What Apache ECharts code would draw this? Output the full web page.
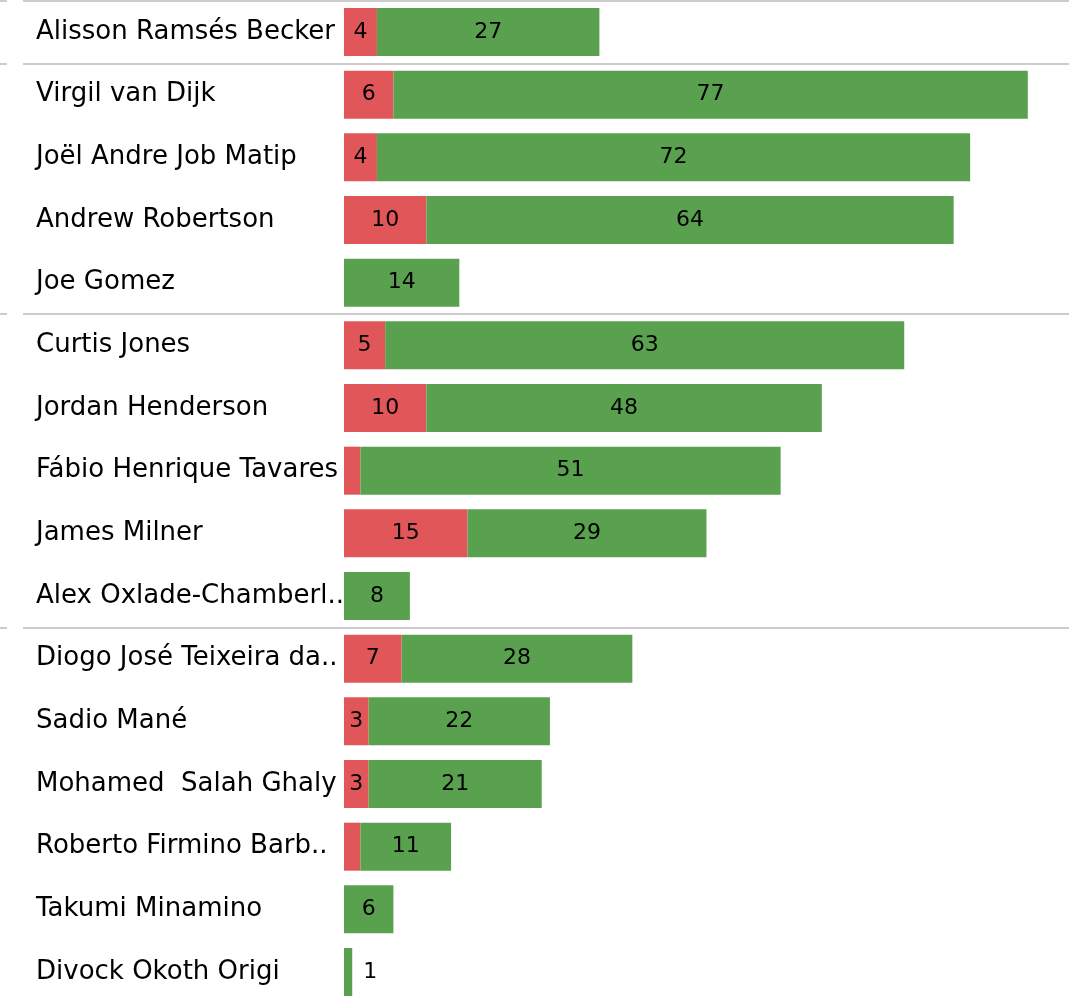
<!DOCTYPE html>
<html>
<head>
<meta charset="utf-8">
<script src="https://cdn.jsdelivr.net/npm/echarts@6/dist/echarts.min.js"></script>
<style>
  html, body { margin: 0; padding: 0; background: #fff; }
  #chart { width: 1077px; height: 997px; }
</style>
</head>
<body>
<div id="chart"></div>
<script>
const players = [
  'Alisson Ramsés Becker',
  'Virgil van Dijk', 'Joël Andre Job Matip', 'Andrew Robertson', 'Joe Gomez',
  'Curtis Jones', 'Jordan Henderson', 'Fábio Henrique Tavares', 'James Milner', 'Alex Oxlade-Chamberl..',
  'Diogo José Teixeira da..', 'Sadio Mané', 'Mohamed  Salah Ghaly', 'Roberto Firmino Barb..', 'Takumi Minamino', 'Divock Okoth Origi'
]
const redValues = [4, 6, 4, 10, 0, 5, 10, 2, 15, 0, 7, 3, 3, 2, 0, 0]
const greenValues = [27, 77, 72, 64, 14, 63, 48, 51, 29, 8, 28, 22, 21, 11, 6, 1]
// row index above which a group divider is drawn
const groupStarts = [0, 1, 5, 10]

const xMin = -41.75, xMax = 88
const pxPerUnit = 8.24

const chart = echarts.init(document.getElementById('chart'))

const barFont = { fontFamily: 'DejaVu Sans', fontSize: 22, color: '#000' }

const dividers = []
groupStarts.forEach(b => {
  dividers.push([{ coord: [xMin, b] }, { coord: [xMin + 7 / pxPerUnit, b] }])
  dividers.push([{ coord: [xMin + 23 / pxPerUnit, b] }, { coord: [xMax, b] }])
})

chart.setOption({
  animation: false,
  grid: { left: 0, right: 8, top: 0.67, height: 1002.67, outerBoundsMode: 'none', containLabel: false },
  xAxis: { type: 'value', min: xMin, max: xMax, show: false },
  yAxis: [
    {
      type: 'category',
      data: players,
      inverse: true,
      axisLine: { show: false },
      axisTick: { show: false },
      splitLine: { show: false },
      axisLabel: { inside: true, margin: 36, align: 'left', fontFamily: 'DejaVu Sans', fontSize: 26, color: '#000' }
    },
    { type: 'value', min: 0, max: players.length, inverse: true, show: false }
  ],
  series: [
    {
      name: 'red',
      type: 'bar',
      stack: 'total',
      barWidth: 48,
      itemStyle: { color: '#e15759' },
      label: {
        show: true, position: 'inside', ...barFont,
        formatter: p => (p.value >= 3 ? p.value : '')
      },
      data: redValues.map(v => (v > 0 ? v : null))
    },
    {
      name: 'green',
      type: 'bar',
      stack: 'total',
      barWidth: 48,
      itemStyle: { color: '#59a14f' },
      label: { show: true, position: 'inside', ...barFont },
      data: greenValues.map(v => (v < 2 ? { value: v, label: { position: 'right', distance: 11 } } : v))
    },
    {
      type: 'scatter',
      xAxisIndex: 0,
      yAxisIndex: 1,
      data: [],
      silent: true,
      markLine: {
        silent: true,
        symbol: 'none',
        label: { show: false },
        lineStyle: { color: '#cccccc', width: 2, type: 'solid' },
        data: dividers
      }
    }
  ]
})
</script>
</body>
</html>
